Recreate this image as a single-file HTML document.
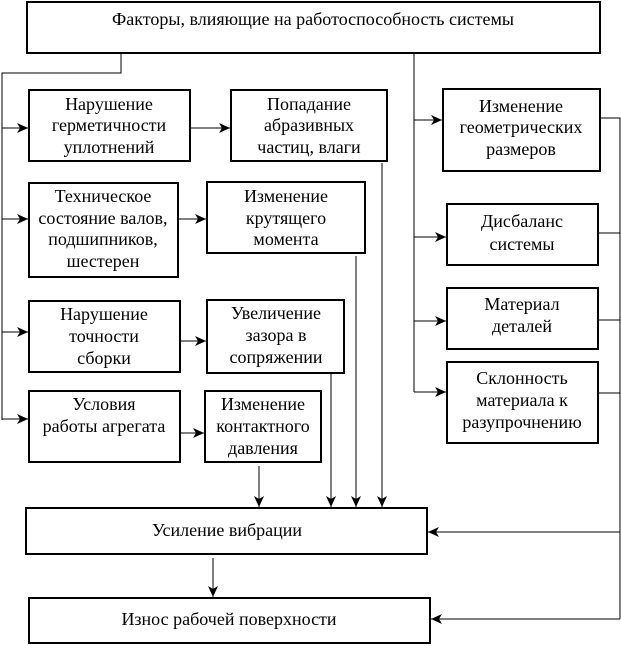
<!DOCTYPE html>
<html><head><meta charset="utf-8"><style>
html,body{margin:0;padding:0;background:#fff}
svg{display:block}
</style></head><body>
<svg width="621" height="646" viewBox="0 0 621 646" xmlns="http://www.w3.org/2000/svg">
<defs>
<marker id="a" markerWidth="12" markerHeight="10" refX="11" refY="5" orient="auto" markerUnits="userSpaceOnUse">
<path d="M0,0 L11,5 L0,10 L3,5 Z" fill="#000"/>
</marker>
</defs>
<g fill="none" stroke="#000" stroke-width="2">
<rect x="27" y="2" width="573" height="51"/>
<rect x="29" y="90" width="161" height="71"/>
<rect x="231" y="90" width="156" height="71"/>
<rect x="443" y="89" width="157" height="82"/>
<rect x="29" y="183" width="149" height="94"/>
<rect x="207" y="182" width="158" height="71"/>
<rect x="447" y="204" width="151" height="61"/>
<rect x="29" y="301" width="151" height="71"/>
<rect x="207" y="300" width="137" height="73"/>
<rect x="447" y="288" width="151" height="61"/>
<rect x="29" y="391" width="151" height="71"/>
<rect x="205" y="391" width="116" height="71"/>
<rect x="447" y="362" width="151" height="81"/>
<rect x="26" y="508" width="401" height="46"/>
<rect x="29" y="598" width="401" height="45"/>
</g>
<g fill="none" stroke="#000" stroke-width="1">
<polyline points="121,54 121,73 2,73 2,420"/>
<line x1="2" y1="128" x2="28" y2="128" marker-end="url(#a)"/>
<line x1="2" y1="219" x2="28" y2="219" marker-end="url(#a)"/>
<line x1="2" y1="332" x2="28" y2="332" marker-end="url(#a)"/>
<line x1="2" y1="419" x2="28" y2="419" marker-end="url(#a)"/>
<line x1="190" y1="128" x2="230" y2="128" marker-end="url(#a)"/>
<line x1="178" y1="219" x2="206" y2="219" marker-end="url(#a)"/>
<line x1="180" y1="341" x2="206" y2="341" marker-end="url(#a)"/>
<line x1="180" y1="433" x2="204" y2="433" marker-end="url(#a)"/>
<line x1="414" y1="54" x2="414" y2="392"/>
<line x1="414" y1="120" x2="442" y2="120" marker-end="url(#a)"/>
<line x1="414" y1="237" x2="446" y2="237" marker-end="url(#a)"/>
<line x1="414" y1="321" x2="446" y2="321" marker-end="url(#a)"/>
<line x1="414" y1="392" x2="446" y2="392" marker-end="url(#a)"/>
<polyline points="600,118 620,118 620,619"/>
<line x1="598" y1="233" x2="620" y2="233"/>
<line x1="598" y1="320" x2="620" y2="320"/>
<line x1="598" y1="393" x2="620" y2="393"/>
<line x1="620" y1="532" x2="428" y2="532" marker-end="url(#a)"/>
<line x1="620" y1="619" x2="431" y2="619" marker-end="url(#a)"/>
<line x1="382" y1="163" x2="382" y2="507" marker-end="url(#a)"/>
<line x1="356" y1="256" x2="356" y2="507" marker-end="url(#a)"/>
<line x1="331" y1="374" x2="331" y2="507" marker-end="url(#a)"/>
<line x1="259" y1="466" x2="259" y2="507" marker-end="url(#a)"/>
<line x1="213" y1="558" x2="213" y2="597" marker-end="url(#a)"/>
</g>
<g font-family="'Liberation Serif', 'DejaVu Serif', serif" font-size="18" fill="#000" text-anchor="middle">
<text x="313" y="25">Факторы, влияющие на работоспособность системы</text>
<text x="109" y="110">Нарушение</text><text x="109" y="131">герметичности</text><text x="109" y="153">уплотнений</text>
<text x="309" y="110">Попадание</text><text x="309" y="131">абразивных</text><text x="309" y="153">частиц, влаги</text>
<text x="521" y="112">Изменение</text><text x="521" y="133">геометрических</text><text x="521" y="155">размеров</text>
<text x="103" y="202">Техническое</text><text x="103" y="224">состояние валов,</text><text x="103" y="245">подшипников,</text><text x="103" y="267">шестерен</text>
<text x="286" y="202">Изменение</text><text x="286" y="224">крутящего</text><text x="286" y="245">момента</text>
<text x="522" y="227">Дисбаланс</text><text x="522" y="250">системы</text>
<text x="522" y="310">Материал</text><text x="522" y="332">деталей</text>
<text x="104" y="320">Нарушение</text><text x="104" y="342">точности</text><text x="104" y="364">сборки</text>
<text x="276" y="319">Увеличение</text><text x="276" y="341">зазора в</text><text x="276" y="363">сопряжении</text>
<text x="522" y="384">Склонность</text><text x="522" y="406">материала к</text><text x="522" y="428">разупрочнению</text>
<text x="104" y="410">Условия</text><text x="104" y="432">работы агрегата</text>
<text x="263" y="410">Изменение</text><text x="263" y="432">контактного</text><text x="263" y="454">давления</text>
<text x="227" y="536">Усиление вибрации</text>
<text x="229" y="625">Износ рабочей поверхности</text>
</g>
</svg>
</body></html>
